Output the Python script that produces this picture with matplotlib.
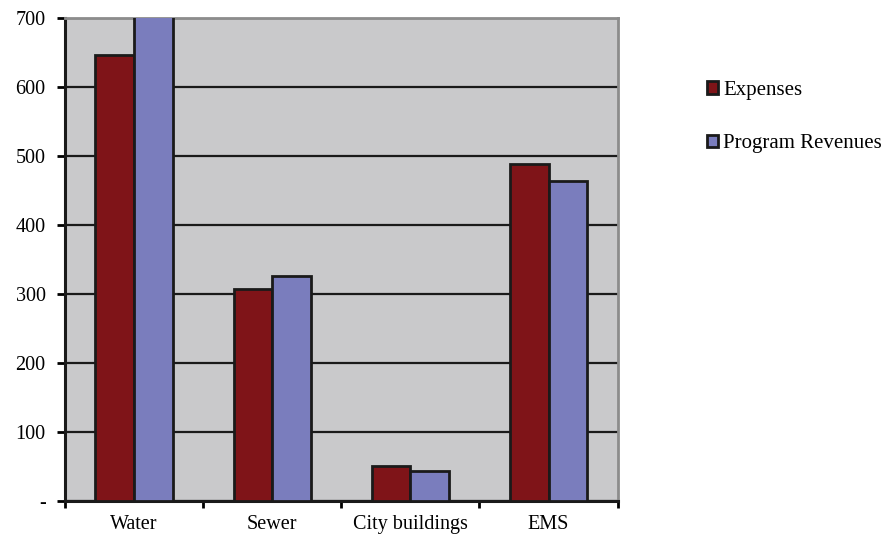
import matplotlib.pyplot as plt
from matplotlib.patches import Patch
import numpy as np

plt.rcParams['font.family'] = 'serif'
plt.rcParams['font.serif'] = ['Liberation Serif', 'DejaVu Serif']

categories = ["Water", "Sewer", "City buildings", "EMS"]
expenses = [647, 307, 50, 489]
revenues = [710, 326, 43, 464]
y_ticks = [0, 100, 200, 300, 400, 500, 600, 700]
y_labels = ["-", "100", "200", "300", "400", "500", "600", "700"]

RED = "#7f1418"
BLUE = "#7a7dbd"
BG = "#c9c9cb"

fig = plt.figure(figsize=(8.9, 5.35), dpi=100)
ax = fig.add_axes([0.073, 0.064, 0.621, 0.902])
ax.set_facecolor(BG)

x = np.arange(len(categories))
w = 0.28
ax.bar(x - w / 2, expenses, w, color=RED, edgecolor="#1a1a1a", linewidth=2, zorder=3)
ax.bar(x + w / 2, revenues, w, color=BLUE, edgecolor="#1a1a1a", linewidth=2, zorder=3)

ax.set_ylim(0, 700)
ax.set_xlim(-0.5, len(categories) - 0.5)
ax.set_yticks(y_ticks)
ax.set_yticklabels(y_labels)
ax.yaxis.grid(True, color="#1a1a1a", linewidth=1.6, zorder=1)
ax.set_axisbelow(True)

ax.set_xticks(x)
ax.set_xticklabels(categories)
ax.set_xticks(np.arange(-0.5, len(categories)), minor=True)
ax.tick_params(axis="x", which="major", length=0, pad=10, labelsize=14.5)
ax.tick_params(axis="x", which="minor", length=5, width=2, direction="out")
ax.tick_params(axis="y", length=6, width=2, direction="out", labelsize=14.5, pad=8)

for s in ["left", "bottom"]:
    ax.spines[s].set_color("#1a1a1a")
    ax.spines[s].set_linewidth(2.2)
for s in ["top", "right"]:
    ax.spines[s].set_color("#8c8c8c")
    ax.spines[s].set_linewidth(2)

handles = [Patch(facecolor=RED, edgecolor="#1a1a1a", linewidth=2, label="Expenses"),
           Patch(facecolor=BLUE, edgecolor="#1a1a1a", linewidth=2, label="Program Revenues")]
fig.legend(handles=handles, loc="upper left", bbox_to_anchor=(0.794, 0.849),
           frameon=False, fontsize=15, handlelength=0.55, handleheight=0.55,
           handletextpad=0.25, labelspacing=1.65, borderpad=0, borderaxespad=0)

plt.savefig("out.png", dpi=100)
plt.close()
